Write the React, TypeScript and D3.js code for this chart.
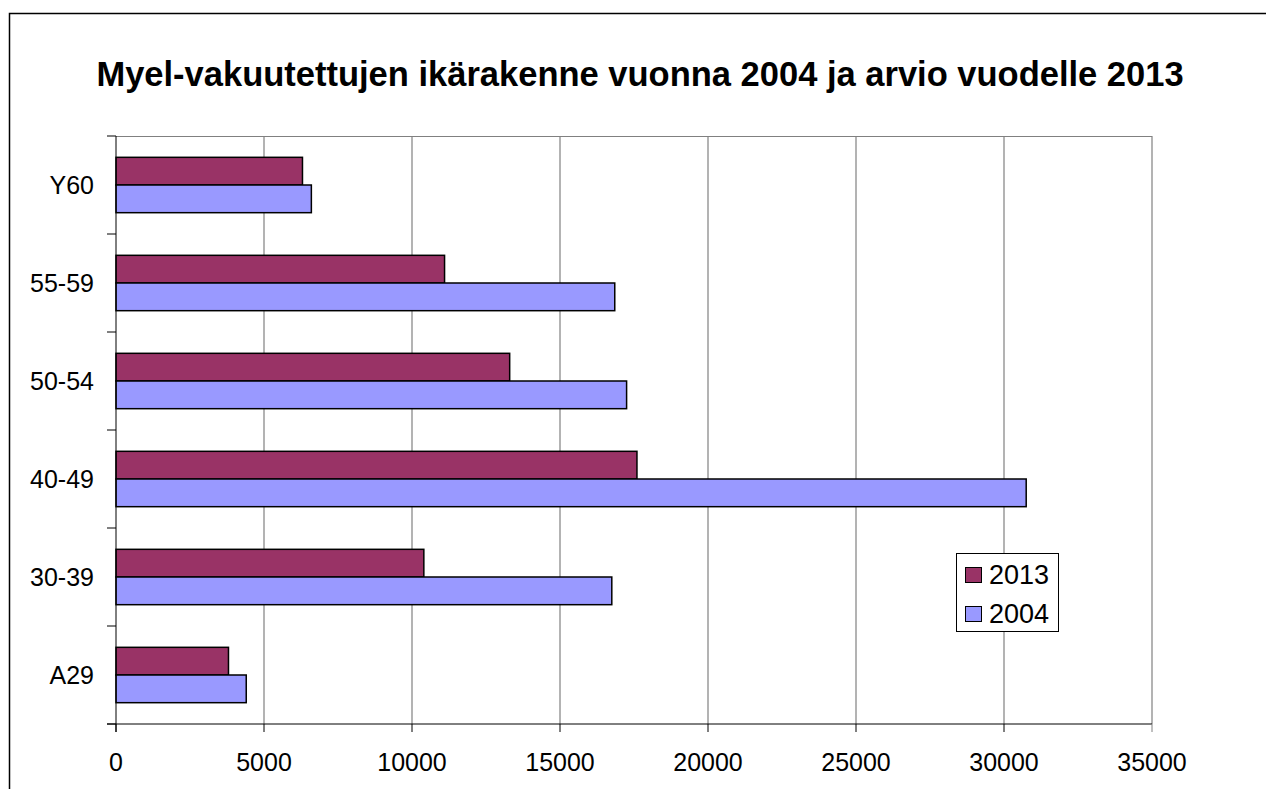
import React from "react";
import * as d3 from "d3";

const categories = ["Y60", "55-59", "50-54", "40-49", "30-39", "A29"];
const series = ["2013", "2004"];
const values2013 = [6300, 11100, 13300, 17600, 10400, 3800];
const values2004 = [6600, 16850, 17250, 30750, 16750, 4400];
const xTicks = [0, 5000, 10000, 15000, 20000, 25000, 30000, 35000];
const colors = ["#993366", "#9999FF"];
const title = "Myel-vakuutettujen ikärakenne vuonna 2004 ja arvio vuodelle 2013";

export default function App() {
  const W = 1266, H = 789;
  const left = 116, right = 1152, top = 136, bottom = 724;
  const x = d3.scaleLinear().domain([0, 35000]).range([left, right]);
  const y = d3.scaleBand().domain(categories).range([top, bottom]).padding(0);
  const inner = d3.scaleBand().domain(series).range([0, y.bandwidth()]).paddingInner(0).paddingOuter(0.77);
  const data = [values2013, values2004];
  const font = "Liberation Sans, Arial, sans-serif";

  return (
    <svg width={W} height={H} style={{ position: "absolute", left: 0, top: 0, background: "#fff" }}>
      <rect x={0} y={0} width={W} height={H} fill="#fff" />
      <rect x={9.5} y={13.5} width={W + 20} height={H + 20} fill="none" stroke="#000" strokeWidth={1.5} />
      <text x={640} y={86} textAnchor="middle" fontFamily={font} fontWeight="bold" fontSize={34.5}>{title}</text>
      {/* gridlines */}
      {xTicks.slice(1).map((t) => (
        <line key={t} x1={x(t)} x2={x(t)} y1={top} y2={bottom} stroke="#808080" strokeWidth={1.2} />
      ))}
      <line x1={left} x2={right} y1={top + 0.5} y2={top + 0.5} stroke="#808080" strokeWidth={1.2} />
      {/* bars */}
      {categories.map((c, i) =>
        series.map((s, j) => (
          <rect
            key={c + s}
            x={x(0)}
            y={(y(c) as number) + (inner(s) as number)}
            width={x(data[j][i]) - x(0)}
            height={inner.bandwidth()}
            fill={colors[j]}
            stroke="#000"
            strokeWidth={1.5}
          />
        ))
      )}
      {/* axes */}
      <line x1={left} x2={left} y1={top} y2={bottom + 8} stroke="#000" strokeWidth={1} />
      <line x1={left - 9} x2={right} y1={bottom} y2={bottom} stroke="#000" strokeWidth={1} />
      {[...categories.map((c) => y(c) as number), bottom].map((v, i) => (
        <line key={"yt" + i} x1={left - 9} x2={left} y1={v} y2={v} stroke="#000" strokeWidth={1} />
      ))}
      {xTicks.map((t) => (
        <line key={"xt" + t} x1={x(t)} x2={x(t)} y1={bottom} y2={bottom + 8} stroke={t === 35000 ? "#808080" : "#000"} strokeWidth={1} />
      ))}
      {categories.map((c) => (
        <text key={"yl" + c} x={94} y={(y(c) as number) + y.bandwidth() / 2} textAnchor="end" dominantBaseline="central" fontFamily={font} fontSize={25}>{c}</text>
      ))}
      {xTicks.map((t) => (
        <text key={"xl" + t} x={x(t)} y={771} textAnchor="middle" fontFamily={font} fontSize={25}>{t}</text>
      ))}
      {/* legend */}
      <rect x={956.5} y={553.5} width={102} height={78} fill="#fff" stroke="#000" strokeWidth={1} />
      {series.map((s, j) => (
        <g key={"lg" + s}>
          <rect x={965.5} y={567.5 + j * 39} width={16} height={15} fill={colors[j]} stroke="#000" strokeWidth={1} />
          <text x={989} y={575 + j * 39} dominantBaseline="central" fontFamily={font} fontSize={27}>{s}</text>
        </g>
      ))}
    </svg>
  );
}
